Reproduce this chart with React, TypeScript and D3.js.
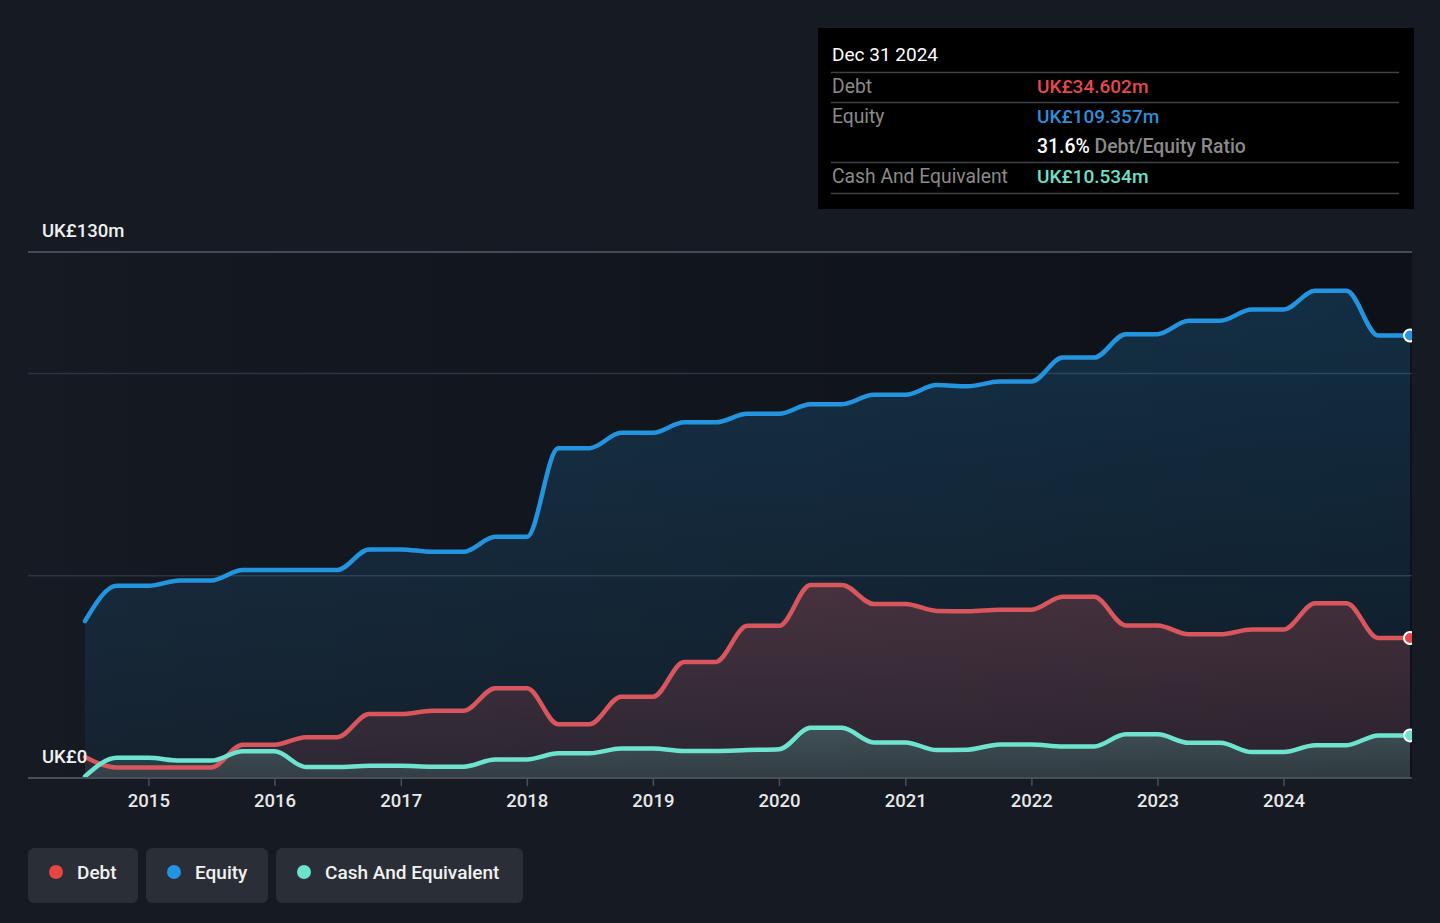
import { useMemo } from "react";
import * as d3 from "d3";

// quarter ends, mid 2014 to end 2024
const dates = [
  "2014-06-30", "2014-09-30", "2014-12-31",
  "2015-03-31", "2015-06-30", "2015-09-30", "2015-12-31",
  "2016-03-31", "2016-06-30", "2016-09-30", "2016-12-31",
  "2017-03-31", "2017-06-30", "2017-09-30", "2017-12-31",
  "2018-03-31", "2018-06-30", "2018-09-30", "2018-12-31",
  "2019-03-31", "2019-06-30", "2019-09-30", "2019-12-31",
  "2020-03-31", "2020-06-30", "2020-09-30", "2020-12-31",
  "2021-03-31", "2021-06-30", "2021-09-30", "2021-12-31",
  "2022-03-31", "2022-06-30", "2022-09-30", "2022-12-31",
  "2023-03-31", "2023-06-30", "2023-09-30", "2023-12-31",
  "2024-03-31", "2024-06-30", "2024-09-30", "2024-12-31",
];

// UK£m
const equity = [
  38.8, 47.5, 47.5, 48.8, 48.8, 51.4, 51.4, 51.4, 51.4, 56.5, 56.5,
  55.9, 55.9, 59.6, 59.6, 81.5, 81.5, 85.3, 85.3, 87.9, 87.9, 90.0, 90.0,
  92.4, 92.4, 94.7, 94.7, 97.1, 96.8, 98.0, 98.0, 103.9, 103.9, 109.7, 109.7,
  113.0, 113.0, 115.8, 115.8, 120.4, 120.4, 109.357, 109.357,
];
const debt = [
  5.2, 2.6, 2.6, 2.6, 2.6, 8.2, 8.2, 10.1, 10.1, 15.8, 15.8,
  16.6, 16.6, 22.2, 22.2, 13.3, 13.3, 20.1, 20.1, 28.7, 28.7, 37.6, 37.6,
  47.7, 47.7, 43.0, 43.0, 41.3, 41.2, 41.6, 41.6, 44.8, 44.8, 37.7, 37.7,
  35.5, 35.5, 36.7, 36.7, 43.2, 43.2, 34.602, 34.602,
];
const cash = [
  0.4, 5.0, 5.0, 4.3, 4.3, 6.6, 6.6, 2.7, 2.7, 3.0, 3.0,
  2.8, 2.8, 4.6, 4.6, 6.1, 6.1, 7.3, 7.3, 6.7, 6.7, 6.9, 7.1,
  12.4, 12.4, 8.8, 8.8, 6.9, 7.0, 8.3, 8.3, 7.8, 7.8, 10.8, 10.8,
  8.7, 8.7, 6.4, 6.4, 8.1, 8.1, 10.534, 10.534,
];

const yearTicks = [2015, 2016, 2017, 2018, 2019, 2020, 2021, 2022, 2023, 2024];
const gridValues = [50, 100];

const W = 1440;
const H = 923;
const FONT = "Roboto, 'Noto Sans', sans-serif";

const series = [
  { key: "equity", label: "Equity", values: equity, line: "#2394df", dot: "#2394e0" },
  { key: "debt", label: "Debt", values: debt, line: "#d9565c", dot: "#e84545" },
  { key: "cash", label: "Cash And Equivalent", values: cash, line: "#6ee3cf", dot: "#6ce4d0" },
];

const App = () => {
  const parse = d3.timeParse("%Y-%m-%d");
  const pts = dates.map((d) => parse(d) as Date);

  const x = d3.scaleTime().domain([pts[0], pts[pts.length - 1]]).range([85, 1410]);
  const y = d3.scaleLinear().domain([0, 130]).range([778, 252]);

  const paths = useMemo(() => {
    return series.map((s) => {
      const data = s.values.map((v, i) => ({ d: pts[i], v }));
      const line = d3
        .line<{ d: Date; v: number }>()
        .x((p) => x(p.d))
        .y((p) => y(p.v))
        .curve(d3.curveMonotoneX);
      const area = d3
        .area<{ d: Date; v: number }>()
        .x((p) => x(p.d))
        .y0(y(0))
        .y1((p) => y(p.v))
        .curve(d3.curveMonotoneX);
      return { ...s, l: line(data) || "", a: area(data) || "", last: data[data.length - 1] };
    });
  }, []);

  const legend = [
    { label: "Debt", color: "#e84545", x: 28, w: 110 },
    { label: "Equity", color: "#2394e0", x: 146, w: 122 },
    { label: "Cash And Equivalent", color: "#6ce4d0", x: 276, w: 247 },
  ];

  const fillOpacity: { [k: string]: [number, number] } = {
    equity: [0.22, 0.07],
    debt: [0.26, 0.12],
    cash: [0.22, 0.12],
  };

  return (
    <div style={{ position: "absolute", left: 0, top: 0, width: W, height: H, background: "#151a23" }}>
      <svg width={W} height={H} style={{ display: "block", fontFamily: FONT }}>
        <defs>
          <linearGradient id="shade" x1="0" x2="1" y1="0" y2="0">
            <stop offset="0" stopColor="#000" stopOpacity={0} />
            <stop offset="0.08" stopColor="#000" stopOpacity={0.05} />
            <stop offset="1" stopColor="#000" stopOpacity={0.35} />
          </linearGradient>
          {paths.map((p) => (
            <linearGradient key={p.key} id={"g-" + p.key} x1="0" x2="0" y1="0" y2="1">
              <stop offset="0" stopColor={p.line} stopOpacity={fillOpacity[p.key][0]} />
              <stop offset="1" stopColor={p.line} stopOpacity={fillOpacity[p.key][1]} />
            </linearGradient>
          ))}
          <clipPath id="plotClip">
            <rect x={0} y={200} width={1412} height={600} />
          </clipPath>
        </defs>

        <rect x={0} y={0} width={W} height={H} fill="#151a23" />
        <rect x={28} y={252} width={1384} height={526} fill="url(#shade)" />

        {/* grid */}
        {gridValues.map((g) => (
          <line key={g} x1={28} x2={1412} y1={y(g)} y2={y(g)} stroke="#2b3441" strokeWidth={1.5} />
        ))}
        <line x1={28} x2={1412} y1={y(130)} y2={y(130)} stroke="#454b54" strokeWidth={2} />

        <g clipPath="url(#plotClip)">
          {/* areas */}
          {paths.map((p) => (
            <path key={"a" + p.key} d={p.a} fill={`url(#g-${p.key})`} />
          ))}
          {/* lines */}
          {paths.map((p) => (
            <path
              key={"l" + p.key}
              d={p.l}
              fill="none"
              stroke={p.line}
              strokeWidth={4.5}
              strokeLinejoin="round"
              strokeLinecap="round"
            />
          ))}
          {/* end dots */}
          {paths.map((p) => (
            <circle
              key={"c" + p.key}
              cx={x(p.last.d)}
              cy={y(p.last.v)}
              r={6}
              fill={p.dot}
              stroke="#fff"
              strokeWidth={2}
            />
          ))}
        </g>

        {/* x axis */}
        <line x1={28} x2={1412} y1={y(0)} y2={y(0)} stroke="#4a4f57" strokeWidth={2} />
        {yearTicks.map((t) => {
          const tx = x(new Date(t, 0, 1));
          return (
            <g key={t}>
              <line x1={tx} x2={tx} y1={779} y2={786} stroke="#4a4f57" strokeWidth={1.5} />
              <text x={tx} y={807} fill="#e8e8e8" fontSize={18.5} fontWeight={500} textAnchor="middle">
                {t}
              </text>
            </g>
          );
        })}

        {/* y labels */}
        <text x={42} y={237} fill="#f0f0f0" fontSize={18.5} fontWeight={500}>
          UK£130m
        </text>
        <text x={42} y={763} fill="#f0f0f0" fontSize={18.5} fontWeight={500}>
          UK£0
        </text>

        {/* tooltip */}
        <g>
          <rect x={818} y={28} width={596} height={181} fill="#000" />
          <text x={832} y={61} fill="#fff" fontSize={19}>
            Dec 31 2024
          </text>
          {[72.5, 102.5, 162.5, 193.5].map((ly) => (
            <line key={ly} x1={831} x2={1399} y1={ly} y2={ly} stroke="#3f4247" strokeWidth={1.5} />
          ))}
          <text x={832} y={93} fill="#8a8a8a" fontSize={19.3}>Debt</text>
          <text x={1037} y={93} fill="#e5484d" fontSize={19} fontWeight={500}>UK£34.602m</text>
          <text x={832} y={123} fill="#8a8a8a" fontSize={19.3}>Equity</text>
          <text x={1037} y={123} fill="#2d8fdc" fontSize={19} fontWeight={500}>UK£109.357m</text>
          <text x={1037} y={153} fontSize={19.4} fontWeight={500}>
            <tspan fill="#fff">31.6%</tspan>
            <tspan fill="#8a8a8a"> Debt/Equity Ratio</tspan>
          </text>
          <text x={832} y={183} fill="#8a8a8a" fontSize={19.3}>Cash And Equivalent</text>
          <text x={1037} y={183} fill="#6ee0c8" fontSize={19} fontWeight={500}>UK£10.534m</text>
        </g>

        {/* legend */}
        {legend.map((l) => (
          <g key={l.label}>
            <rect x={l.x} y={848} width={l.w} height={55} rx={6} fill="#2a2e36" />
            <circle cx={l.x + 28} cy={872} r={7} fill={l.color} />
            <text x={l.x + 49} y={879} fill="#f2f2f2" fontSize={19} fontWeight={500}>
              {l.label}
            </text>
          </g>
        ))}
      </svg>
    </div>
  );
};

export default App;
